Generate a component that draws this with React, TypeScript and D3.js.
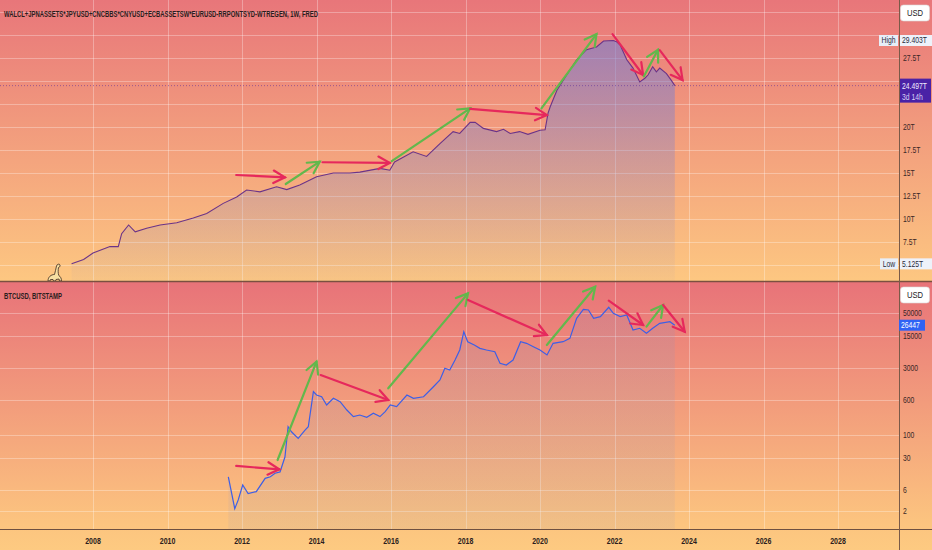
import React from "react";
import * as d3 from "d3";

// weekly global liquidity (trillions USD)
const liquidityDates = [
  "2007-06-05", "2007-10-01", "2008-01-01", "2008-06-15", "2008-09-05", "2008-10-08",
  "2008-12-15", "2009-02-18", "2009-06-10", "2009-10-20", "2010-04-01", "2010-09-10",
  "2011-01-20", "2011-07-01", "2011-11-10", "2012-02-15", "2012-06-25", "2012-12-05",
  "2013-03-15", "2013-07-20", "2014-01-01", "2014-06-15", "2014-11-25", "2015-03-01",
  "2015-09-15", "2015-12-20", "2016-02-05", "2016-08-05", "2016-12-15", "2017-04-25",
  "2017-09-01", "2017-11-05", "2018-02-15", "2018-04-05", "2018-06-25", "2018-11-01",
  "2019-01-08", "2019-03-15", "2019-06-15", "2019-09-05", "2020-01-01", "2020-02-20",
  "2020-03-20", "2020-04-10", "2020-06-15", "2020-10-20", "2020-12-25", "2021-04-01",
  "2021-07-08", "2021-09-15", "2021-12-20", "2022-01-20", "2022-02-25", "2022-05-01",
  "2022-07-01", "2022-09-05", "2022-10-25", "2022-11-25", "2023-01-10", "2023-02-15",
  "2023-03-20", "2023-05-25", "2023-07-10", "2023-08-15",
];
const liquidityValues = [
  5.13, 5.6, 6.3, 7.0, 7.0, 8.4,
  9.35, 8.6, 9.0, 9.35, 9.6, 10.1,
  10.6, 11.7, 12.4, 13.15, 12.95, 13.5,
  13.2, 13.7, 14.6, 15.0, 15.0, 15.1,
  15.5, 15.3, 16.2, 17.3, 16.8, 18.2,
  19.5, 19.3, 20.5, 20.5, 19.85, 19.5,
  19.75, 19.3, 19.5, 19.2, 19.65, 19.7,
  21.5, 22.2, 24.0, 26.2, 27.3, 28.4,
  28.7, 29.35, 29.403, 29.28, 28.9, 27.3,
  26.4, 24.9, 25.3, 25.65, 26.55, 26.0,
  26.4, 25.8, 25.1, 24.497,
];

// BTCUSD, Bitstamp
const btcDates = [
  "2011-08-20", "2011-10-22", "2011-11-25", "2012-01-08", "2012-03-01", "2012-05-20",
  "2012-08-15", "2012-10-05", "2012-11-20", "2013-01-08", "2013-02-25", "2013-03-28",
  "2013-04-30", "2013-07-05", "2013-09-10", "2013-10-12", "2013-12-01", "2014-01-01",
  "2014-02-20", "2014-04-10", "2014-06-15", "2014-08-20", "2014-10-25", "2014-12-28",
  "2015-03-01", "2015-05-08", "2015-07-12", "2015-09-15", "2015-11-05", "2015-12-25",
  "2016-02-25", "2016-06-05", "2016-08-08", "2016-11-15", "2017-02-20", "2017-04-25",
  "2017-06-12", "2017-07-30", "2017-09-20", "2017-11-05", "2017-12-15", "2018-01-22",
  "2018-03-28", "2018-05-22", "2018-07-25", "2018-10-15", "2018-12-05", "2019-02-05",
  "2019-04-12", "2019-06-25", "2019-08-22", "2019-10-28", "2020-01-01", "2020-03-10",
  "2020-05-08", "2020-08-15", "2020-10-20", "2020-12-25", "2021-03-01", "2021-04-20",
  "2021-06-10", "2021-08-15", "2021-11-05", "2021-12-20", "2022-02-25", "2022-05-01",
  "2022-07-01", "2022-09-05", "2022-11-10", "2023-01-10", "2023-03-20", "2023-06-28",
  "2023-08-15",
];
const btcPrices = [
  11.7, 2.3, 3.6, 7.7, 5.0, 5.5,
  10.8, 11.7, 14, 15, 32, 150,
  116, 83, 126, 150, 900, 755,
  690, 454, 638, 537, 351, 251,
  272, 243, 297, 251, 322, 454,
  417, 755, 638, 690, 1150, 1620,
  2950, 2700, 4490, 7480, 19000, 11400,
  9640, 8140, 7480, 6860, 3800, 3480,
  4490, 11400, 10500, 8850, 7480, 5800,
  10500, 11400, 13500, 37600, 59400, 57400,
  37600, 40900, 65900, 48500, 40900, 44500,
  20700, 22600, 17500, 22600, 29100, 31600,
  26447,
];

const yearTicks = [2008, 2010, 2012, 2014, 2016, 2018, 2020, 2022, 2024, 2026, 2028];
const liquidityGrid = [5, 7.5, 10, 12.5, 15, 17.5, 20, 22.5, 25, 27.5, 30, 32.5];
const liquidityLabels = [7.5, 10, 12.5, 15, 17.5, 20, 22.5, 25, 27.5, 30];
const btcTicks = [2, 6, 30, 100, 600, 3000, 15000, 50000];

const liquidityHigh = 29.403;
const liquidityLow = 5.125;
const liquidityLast = 24.497;
const btcLast = 26447;

// hand-drawn arrows from the chart: [date, value] -> [date, value]
const liquidityArrows = [
  { from: ["2011-11-05", 14.78], to: ["2013-02-25", 14.53], kind: "down" },
  { from: ["2013-03-05", 13.8], to: ["2014-02-01", 16.23], kind: "up" },
  { from: ["2014-02-28", 16.17], to: ["2015-12-20", 16.1], kind: "down" },
  { from: ["2016-01-08", 16.3], to: ["2018-02-15", 22.03], kind: "up" },
  { from: ["2018-02-15", 21.96], to: ["2020-03-08", 21.3], kind: "down" },
  { from: ["2020-01-15", 22.03], to: ["2021-07-08", 30.1], kind: "up" },
  { from: ["2021-12-12", 30.1], to: ["2022-10-08", 25.65], kind: "down" },
  { from: ["2022-10-15", 25.5], to: ["2023-03-03", 28.4], kind: "up" },
  { from: ["2023-03-20", 28.35], to: ["2023-10-30", 25.1], kind: "down" },
];
const btcArrows = [
  { from: ["2011-11-05", 20.3], to: ["2013-01-01", 17.1], kind: "down" },
  { from: ["2012-12-15", 27.5], to: ["2014-01-01", 4120], kind: "up" },
  { from: ["2014-02-10", 2090], to: ["2015-12-05", 585], kind: "down" },
  { from: ["2015-12-05", 1061], to: ["2018-01-25", 134000], kind: "up" },
  { from: ["2018-01-25", 95500], to: ["2020-03-08", 16000], kind: "down" },
  { from: ["2020-03-08", 9640], to: ["2021-06-25", 188000], kind: "up" },
  { from: ["2021-11-05", 92200], to: ["2022-10-08", 26700], kind: "down" },
  { from: ["2022-11-10", 24500], to: ["2023-04-22", 74000], kind: "up" },
  { from: ["2023-04-22", 74000], to: ["2023-11-20", 19000], kind: "down" },
];

const W = 932;
const H = 550;
const plotRight = 899;
const topPane = { y0: 0, y1: 281 };
const botPane = { y0: 282, y1: 529 };
const font = "'Liberation Sans', Arial, sans-serif";
const arrowColor: any = { up: "#62b84c", down: "#e6285c" };

const parse = d3.timeParse("%Y-%m-%d");

// condensed text: the chart's UI font is narrow, so squeeze horizontally
const Narrow = ({ x, y, s = 0.8, anchor = "start", children, ...rest }: any) => (
  <text transform={`translate(${x},${y}) scale(${s},1)`} textAnchor={anchor} {...rest}>
    {children}
  </text>
);

const Arrow = ({ x1, y1, x2, y2, color }: any) => {
  const a = Math.atan2(y2 - y1, x2 - x1);
  const len = 13;
  const h1 = [x2 - len * Math.cos(a - 0.5), y2 - len * Math.sin(a - 0.5)];
  const h2 = [x2 - len * Math.cos(a + 0.5), y2 - len * Math.sin(a + 0.5)];
  return (
    <g stroke={color} strokeWidth={2.2} strokeLinecap="round" fill="none">
      <line x1={x1} y1={y1} x2={x2} y2={y2} />
      <polyline points={`${h1[0]},${h1[1]} ${x2},${y2} ${h2[0]},${h2[1]}`} />
    </g>
  );
};

export default function App() {
  const x = d3
    .scaleTime()
    .domain([new Date(2008, 0, 1), new Date(2028, 0, 1)])
    .range([93, 838]);
  const yLiq = d3.scaleLinear().domain([5, 30]).range([265, 35]);
  const yBtc = d3.scaleLog().domain([30, 50000]).range([458.3, 312.7]);

  const liq = liquidityDates.map((d, i) => ({ date: parse(d)!, v: liquidityValues[i] }));
  const btc = btcDates.map((d, i) => ({ date: parse(d)!, v: btcPrices[i] }));

  const liqLine = d3
    .line<any>()
    .x((d) => x(d.date))
    .y((d) => yLiq(d.v));
  const liqArea = d3
    .area<any>()
    .x((d) => x(d.date))
    .y0(topPane.y1)
    .y1((d) => yLiq(d.v));
  const btcLine = d3
    .line<any>()
    .x((d) => x(d.date))
    .y((d) => yBtc(d.v));
  const btcArea = d3
    .area<any>()
    .x((d) => x(d.date))
    .y0(botPane.y1)
    .y1((d) => yBtc(d.v));

  const yHigh = yLiq(liquidityHigh);
  const yLow = yLiq(liquidityLow);
  const yLast = yLiq(liquidityLast);
  const yBtcLast = yBtc(btcLast);

  // tick labels hidden under the price boxes are left out, the boxes would cover them
  const covered = (y: number) =>
    Math.abs(y - yHigh) < 7 || Math.abs(y - yLow) < 7 || (y > yLast - 12 && y < yLast + 22);

  return (
    <svg
      width={W}
      height={H}
      style={{ position: "absolute", left: 0, top: 0 }}
      fontFamily={font}
    >
      <defs>
        <linearGradient id="bgTop" x1="0" y1="0" x2="0" y2="1">
          <stop offset="0" stopColor="#e8767a" />
          <stop offset="1" stopColor="#fdc781" />
        </linearGradient>
        <linearGradient id="bgBot" x1="0" y1="0" x2="0" y2="1">
          <stop offset="0" stopColor="#e87379" />
          <stop offset="0.9" stopColor="#fcc47f" />
          <stop offset="1" stopColor="#fdca81" />
        </linearGradient>
        <linearGradient id="liqFill" gradientUnits="userSpaceOnUse" x1="0" y1="35" x2="0" y2="281">
          <stop offset="0" stopColor="#7a80d0" stopOpacity={0.65} />
          <stop offset="0.5" stopColor="#7a80d0" stopOpacity={0.3} />
          <stop offset="1" stopColor="#7a80d0" stopOpacity={0.04} />
        </linearGradient>
        <linearGradient id="btcFill" gradientUnits="userSpaceOnUse" x1="0" y1="290" x2="0" y2="529">
          <stop offset="0" stopColor="#8a90c0" stopOpacity={0.18} />
          <stop offset="1" stopColor="#8a90c0" stopOpacity={0.1} />
        </linearGradient>
        <clipPath id="clipTop">
          <rect x={0} y={topPane.y0} width={plotRight} height={topPane.y1 - topPane.y0} />
        </clipPath>
        <clipPath id="clipBot">
          <rect x={0} y={botPane.y0} width={plotRight} height={botPane.y1 - botPane.y0} />
        </clipPath>
      </defs>

      {/* backgrounds */}
      <rect x={0} y={topPane.y0} width={W} height={topPane.y1 - topPane.y0} fill="url(#bgTop)" />
      <rect x={0} y={botPane.y0} width={W} height={H - botPane.y0} fill="url(#bgBot)" />

      {/* grid */}
      <g stroke="#fff" strokeOpacity={0.3} strokeWidth={1}>
        {yearTicks.map((yr) => (
          <line
            key={yr}
            x1={Math.round(x(new Date(yr, 0, 1))) + 0.5}
            x2={Math.round(x(new Date(yr, 0, 1))) + 0.5}
            y1={0}
            y2={botPane.y1}
          />
        ))}
        {liquidityGrid.map((v) => (
          <line key={v} x1={0} x2={plotRight} y1={Math.round(yLiq(v)) + 0.5} y2={Math.round(yLiq(v)) + 0.5} />
        ))}
        {btcTicks.map((v) => (
          <line key={v} x1={0} x2={plotRight} y1={Math.round(yBtc(v)) + 0.5} y2={Math.round(yBtc(v)) + 0.5} />
        ))}
      </g>

      {/* liquidity pane */}
      <g clipPath="url(#clipTop)">
        <path d={liqArea(liq)!} fill="url(#liqFill)" />
        <path d={liqLine(liq)!} fill="none" stroke="#6b3388" strokeWidth={1.1} />
        <line x1={0} x2={plotRight} y1={yLast} y2={yLast} stroke="#5a2a9a" strokeOpacity={0.55} strokeDasharray="1 2" />
        {liquidityArrows.map((a, i) => (
          <Arrow
            key={i}
            x1={x(parse(a.from[0] as string)!)}
            y1={yLiq(a.from[1] as number)}
            x2={x(parse(a.to[0] as string)!)}
            y2={yLiq(a.to[1] as number)}
            color={arrowColor[a.kind]}
          />
        ))}
      </g>

      {/* btc pane */}
      <g clipPath="url(#clipBot)">
        <path d={btcArea(btc)!} fill="url(#btcFill)" />
        <path d={btcLine(btc)!} fill="none" stroke="#3d5fe6" strokeWidth={1.2} />
        {btcArrows.map((a, i) => (
          <Arrow
            key={i}
            x1={x(parse(a.from[0] as string)!)}
            y1={yBtc(a.from[1] as number)}
            x2={x(parse(a.to[0] as string)!)}
            y2={yBtc(a.to[1] as number)}
            color={arrowColor[a.kind]}
          />
        ))}
      </g>

      {/* dino logo */}
      <g transform="translate(46,263)" fill="#f6dfa2" stroke="#3b2a20" strokeWidth={0.8} strokeLinejoin="round">
        <path d="M2,18 C2,14 5,11.5 8.5,11.5 C9.5,9 9.5,6 10.5,3 C11,1 13.5,0.5 14,2 C14.5,3.5 13,4.5 12.5,4.5 C12,7.5 12,10 12.8,12.5 C14.5,13.5 15.5,15.5 15.5,18 L13.5,18 L13,16 L10,16.5 L9.5,18 L7.5,18 L7,16.5 L4.5,16.5 L4,18 Z" />
      </g>

      {/* frames */}
      <line x1={0} x2={W} y1={281.5} y2={281.5} stroke="#7a5040" strokeWidth={1.5} />
      <line x1={0} x2={W} y1={botPane.y1 + 0.5} y2={botPane.y1 + 0.5} stroke="#6e5040" strokeWidth={1} />
      <line x1={plotRight + 0.5} x2={plotRight + 0.5} y1={0} y2={H} stroke="#7a5a48" strokeWidth={1} />

      {/* titles */}
      <text x={4} y={16.5} fontSize={9} fontWeight="bold" fill="#2b1d1d" textLength={314} lengthAdjust="spacingAndGlyphs">
        WALCL+JPNASSETS*JPYUSD+CNCBBS*CNYUSD+ECBASSETSW*EURUSD-RRPONTSYD-WTREGEN, 1W, FRED
      </text>
      <text x={4} y={298.5} fontSize={9} fontWeight="bold" fill="#2b1d1d" textLength={58} lengthAdjust="spacingAndGlyphs">
        BTCUSD, BITSTAMP
      </text>

      {/* x axis */}
      {yearTicks.map((yr) => (
        <Narrow
          key={yr}
          x={x(new Date(yr, 0, 1))}
          y={543.5}
          s={0.78}
          anchor="middle"
          fontSize={9}
          fontWeight="bold"
          fill="#2b1d1d"
        >
          {yr}
        </Narrow>
      ))}

      {/* right axis labels */}
      <g fontSize={8.5} fill="#3a2626">
        {liquidityLabels
          .filter((v) => !covered(yLiq(v)))
          .map((v) => (
            <Narrow key={v} x={903} y={yLiq(v) + 3}>
              {v}T
            </Narrow>
          ))}
        {btcTicks.map((v) => (
          <Narrow key={v} x={903} y={yBtc(v) + 3}>
            {v}
          </Narrow>
        ))}
      </g>

      {/* USD boxes */}
      {[5, 287].map((yy) => (
        <g key={yy}>
          <rect x={900.5} y={yy} width={29} height={16} rx={3} fill="#ffffff" stroke="#d8d8d8" strokeWidth={0.6} />
          <Narrow x={915} y={yy + 11.3} s={0.85} anchor="middle" fontSize={9} fill="#222">
            USD
          </Narrow>
        </g>
      ))}

      {/* high / low / last */}
      <g fontSize={8.5}>
        <rect x={879} y={yHigh - 5.5} width={19} height={11} fill="#e7eef8" />
        <Narrow x={888.5} y={yHigh + 3} anchor="middle" fill="#2a2a3a">High</Narrow>
        <rect x={900} y={yHigh - 5.5} width={32} height={11} fill="#eef2fa" />
        <Narrow x={902} y={yHigh + 3} fill="#2a2a3a">{liquidityHigh}T</Narrow>

        <rect x={880} y={yLow - 5.5} width={18} height={11} fill="#e7eef8" />
        <Narrow x={889} y={yLow + 3} anchor="middle" fill="#2a2a3a">Low</Narrow>
        <rect x={900} y={yLow - 5.5} width={32} height={11} fill="#eef2fa" />
        <Narrow x={902} y={yLow + 3} fill="#2a2a3a">{liquidityLow}T</Narrow>

        <rect x={900} y={yLast - 7} width={31} height={24} fill="#4a22a6" />
        <Narrow x={902} y={yLast + 3} fill="#f1ecff">{liquidityLast}T</Narrow>
        <Narrow x={902} y={yLast + 14} fill="#d9d0f5">3d 14h</Narrow>

        <rect x={899} y={yBtcLast - 5.5} width={26} height={11} fill="#2f63f5" />
        <Narrow x={901} y={yBtcLast + 3} fill="#ffffff">{btcLast}</Narrow>
      </g>
    </svg>
  );
}
